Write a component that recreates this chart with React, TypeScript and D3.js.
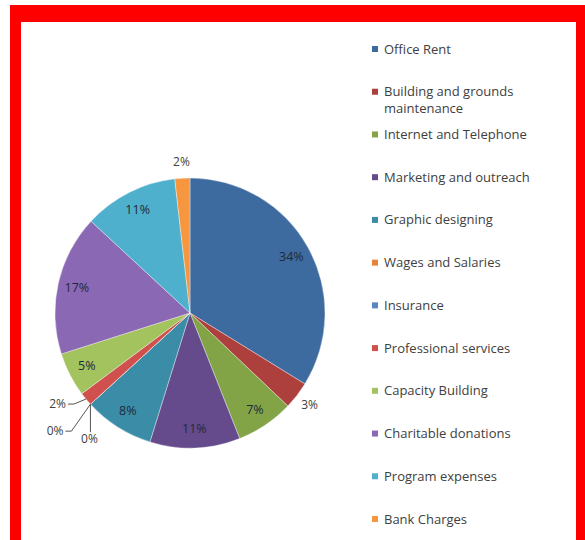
import { useEffect, useRef } from 'react';
import * as d3 from 'd3';

// Chart data
const categories = [
  'Office Rent',
  'Building and grounds maintenance',
  'Internet and Telephone',
  'Marketing and outreach',
  'Graphic designing',
  'Wages and Salaries',
  'Insurance',
  'Professional services',
  'Capacity Building',
  'Charitable donations',
  'Program expenses',
  'Bank Charges',
];

const shares = [33.8, 3.3, 6.9, 10.8, 8.4, 0, 0, 1.6, 5.3, 16.8, 11.3, 1.8];

const colors = [
  '#3e6b9f', '#ad3f3c', '#82a446', '#654b8c', '#3a8ca7', '#e3853c',
  '#5a86c4', '#cf504c', '#a3c35f', '#8a68b3', '#4fb0cd', '#f6963f',
];

// legend labels broken in two lines like the original
const legendLines = [
  ['Office Rent'],
  ['Building and grounds', 'maintenance'],
  ['Internet and Telephone'],
  ['Marketing and outreach'],
  ['Graphic designing'],
  ['Wages and Salaries'],
  ['Insurance'],
  ['Professional services'],
  ['Capacity Building'],
  ['Charitable donations'],
  ['Program expenses'],
  ['Bank Charges'],
];

// small slices that get a label outside the pie
const outsideLabels = ['Building and grounds maintenance', 'Bank Charges'];
// crowded slices get a leader line: offset of text from the slice edge
const leaderLabels: Record<string, { dx: number; dy: number; anchor: string; path: string }> = {
  'Professional services': { dx: -20, dy: 9, anchor: 'end', path: 'elbow' },
  'Wages and Salaries': { dx: -27, dy: 31, anchor: 'end', path: 'elbow' },
  'Insurance': { dx: -1, dy: 39, anchor: 'middle', path: 'down' },
};

const width = 585;
const height = 540;
const cx = 190;
const cy = 313;
const radius = 135;
const font = '"Open Sans", "DejaVu Sans", sans-serif';

function drawChart(el: SVGSVGElement) {
  const svg = d3.select(el);
  svg.selectAll('*').remove();

  // red frame
  svg.append('rect').attr('x', 10).attr('y', 5).attr('width', 580).attr('height', 540).attr('fill', '#ff0000');
  svg.append('rect').attr('x', 21).attr('y', 22).attr('width', 555).attr('height', 530).attr('fill', '#ffffff');

  const data = categories.map((c, i) => ({ name: c, value: shares[i], color: colors[i] }));

  const pie = d3.pie<any>().value(d => d.value).sort(null);
  const arcs = pie(data);
  const arc = d3.arc<any>().innerRadius(0).outerRadius(radius);
  const labelArc = d3.arc<any>().innerRadius(116).outerRadius(116);
  const outArc = d3.arc<any>().innerRadius(radius + 16).outerRadius(radius + 16);
  const edgeArc = d3.arc<any>().innerRadius(radius).outerRadius(radius);

  const g = svg.append('g').attr('transform', `translate(${cx},${cy})`);

  g.selectAll('path.slice')
    .data(arcs)
    .join('path')
    .attr('class', 'slice')
    .attr('d', arc)
    .attr('fill', d => d.data.color)
    .attr('stroke', 'rgba(255,255,255,0.45)')
    .attr('stroke-width', 0.8);

  const pct = (v: number) => Math.round(v) + '%';

  // inside labels
  g.selectAll('text.inside')
    .data(arcs.filter(d => !outsideLabels.includes(d.data.name) && !leaderLabels[d.data.name]))
    .join('text')
    .attr('class', 'inside')
    .attr('transform', d => `translate(${labelArc.centroid(d)})`)
    .attr('text-anchor', 'middle')
    .attr('dy', '0.35em')
    .attr('font-family', font)
    .attr('font-size', 12.5)
    .attr('fill', '#1f2a3a')
    .text(d => pct(d.data.value));

  // outside labels
  g.selectAll('text.outside')
    .data(arcs.filter(d => outsideLabels.includes(d.data.name)))
    .join('text')
    .attr('class', 'outside')
    .attr('transform', d => `translate(${outArc.centroid(d)})`)
    .attr('text-anchor', 'middle')
    .attr('dy', '0.35em')
    .attr('font-family', font)
    .attr('font-size', 12)
    .attr('fill', '#404040')
    .text(d => pct(d.data.value));

  // leader line labels
  const leaders = arcs.filter(d => leaderLabels[d.data.name]);
  leaders.forEach(d => {
    const cfg = leaderLabels[d.data.name];
    const [ex, ey] = edgeArc.centroid(d);
    const tx = ex + cfg.dx;
    const ty = ey + cfg.dy;
    const pts: [number, number][] = cfg.path === 'down'
      ? [[ex, ey], [ex, ty - 11]]
      : [[ex, ey], [tx + 8, ty - 4], [tx + 2, ty - 4]];
    g.append('path')
      .attr('d', d3.line()(pts))
      .attr('fill', 'none')
      .attr('stroke', '#555555')
      .attr('stroke-width', 1);
    g.append('text')
      .attr('x', tx)
      .attr('y', ty)
      .attr('text-anchor', cfg.anchor)
      .attr('font-family', font)
      .attr('font-size', 12)
      .attr('fill', '#404040')
      .text(pct(d.data.value));
  });

  // legend
  const legendY = d3.scalePoint<string>().domain(categories).range([49, 519]);
  const legend = svg.append('g');
  const items = legend.selectAll('g')
    .data(data)
    .join('g')
    .attr('transform', d => `translate(372, ${legendY(d.name)})`);

  items.append('rect')
    .attr('x', 0)
    .attr('y', -3)
    .attr('width', 6)
    .attr('height', 6)
    .attr('fill', d => d.color);

  items.append('text')
    .attr('x', 12)
    .attr('y', 0)
    .attr('font-family', font)
    .attr('font-size', 13)
    .attr('fill', '#404040')
    .selectAll('tspan')
    .data((d, i) => legendLines[i])
    .join('tspan')
    .attr('x', 12)
    .attr('dy', (t, j) => (j === 0 ? '0.35em' : '17px'))
    .text(t => t);
}

export default function App() {
  const ref = useRef<SVGSVGElement>(null);
  useEffect(() => {
    if (ref.current) drawChart(ref.current);
  }, []);
  return (
    <svg
      ref={ref}
      width={width}
      height={height}
      style={{ position: 'absolute', left: 0, top: 0, background: '#ffffff' }}
    />
  );
}
